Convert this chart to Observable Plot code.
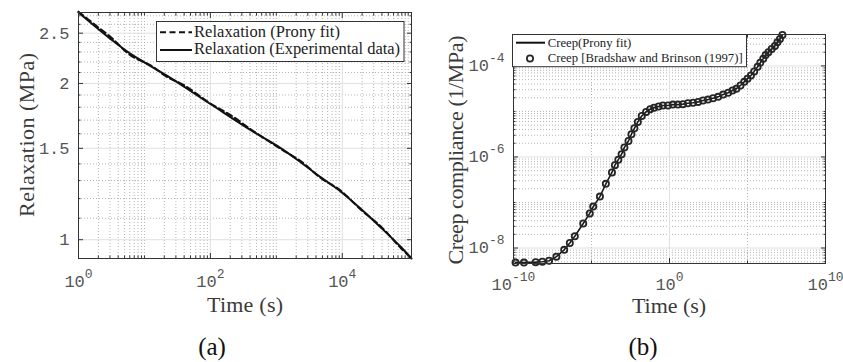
<!DOCTYPE html>
<html><head><meta charset="utf-8">
<script src="https://cdn.jsdelivr.net/npm/d3@7"></script>
<script src="https://cdn.jsdelivr.net/npm/@observablehq/plot@0.6"></script>
<style>
body{margin:0;background:#fff;}
#root{position:relative;width:843px;height:362px;overflow:hidden;background:#fff;}
#root > svg{position:absolute;top:0;}
</style></head>
<body><div id="root"></div>
<script>
// ---------- Panel (a): relaxation ----------
const relaxLogTime      = [0, 0.48, 0.79, 1.34, 2.0, 2.65, 3.06, 3.37, 3.67, 3.97, 4.28, 4.58, 4.89, 5.05];
const relaxExperimental = [2.74, 2.44, 2.28, 2.07, 1.826, 1.615, 1.503, 1.41, 1.32, 1.24, 1.147, 1.057, 0.968, 0.92];
const pronyLogTime      = [0, 0.25, 0.5, 0.79, 1.1, 1.34, 1.6, 2.0, 2.3, 2.65, 3.06, 3.37, 3.67, 3.97, 4.28, 4.58, 4.89, 5.05];
const relaxProny        = [2.75, 2.595, 2.45, 2.265, 2.165, 2.06, 1.985, 1.83, 1.74, 1.62, 1.498, 1.417, 1.316, 1.245, 1.143, 1.062, 0.963, 0.92];
const relaxXTicks = [1, 100, 10000];
const relaxYTicks = [1, 1.5, 2, 2.5];

// ---------- Panel (b): creep compliance ----------
const creepLogTime = [-9.87,-9.33,-8.58,-8.15,-7.72,-7.25,-6.75,-6.39,-6.07,-5.53,-5.11,-4.89,-4.46,-4.08,-3.69,-3.50,-3.28,-3.07,-2.89,-2.63,-2.44,-2.25,-2.03,-1.78,-1.50,-1.24,-0.99,-0.70,-0.42,-0.10,0.22,0.54,0.86,1.18,1.51,1.83,2.15,2.47,2.79,3.12,3.44,3.76,4.04,4.29,4.55,4.79,5.00,5.22,5.43,5.65,5.82,6.01,6.16,6.34,6.55,6.76,6.92,7.08,7.24];
const creepLogCompliance = [-8.32,-8.32,-8.31,-8.30,-8.28,-8.19,-8.04,-7.89,-7.74,-7.46,-7.24,-7.09,-6.87,-6.59,-6.34,-6.18,-6.06,-5.94,-5.79,-5.65,-5.50,-5.37,-5.23,-5.10,-5.01,-4.95,-4.92,-4.89,-4.87,-4.87,-4.85,-4.85,-4.84,-4.82,-4.81,-4.79,-4.76,-4.74,-4.71,-4.68,-4.63,-4.59,-4.54,-4.50,-4.43,-4.35,-4.28,-4.21,-4.12,-4.02,-3.93,-3.84,-3.76,-3.70,-3.63,-3.56,-3.48,-3.41,-3.32];
const creepXTicks = [1e-10, 1, 1e10];
const creepYTicks = [1e-8, 1e-6, 1e-4];

const expData   = relaxLogTime.map((lt, i) => ({t: 10 ** lt, v: relaxExperimental[i]}));
const pronyData = pronyLogTime.map((lt, i) => ({t: 10 ** lt, v: relaxProny[i]}));
const creepData = creepLogTime.map((lt, i) => ({t: 10 ** lt, j: 10 ** creepLogCompliance[i]}));

function logMinor(lo, hi, majors) {
  const out = [];
  for (let e = Math.floor(Math.log10(lo)) - 1; e <= Math.ceil(Math.log10(hi)); e++)
    for (let k = 1; k < 10; k++) {
      const v = k * 10 ** e;
      if (v >= lo && v <= hi && !majors.some(m => Math.abs(m - v) / v < 1e-9)) out.push(v);
    }
  return out;
}
const MONO = "Liberation Mono";
const SERIF = "Liberation Serif";
const supFmt = d => "10^" + Math.round(Math.log10(d));
const blank = () => "";
const MINOR = {stroke: "#b4b4b4", strokeOpacity: 1, strokeDasharray: "1,2", strokeWidth: 1};
const MAJOR = {stroke: "#e0e0e0", strokeOpacity: 1, strokeWidth: 1};
const TXT = {fontSize: 17, fill: "#555", fontFamily: MONO};

function ticks4(xs, ys, size) {
  return [
    Plot.axisX(xs, {anchor: "bottom", tickSize: -size, tickFormat: blank, stroke: "#333"}),
    Plot.axisX(xs, {anchor: "top", tickSize: -size, tickFormat: blank, stroke: "#333"}),
    Plot.axisY(ys, {anchor: "left", tickSize: -size, tickFormat: blank, stroke: "#333"}),
    Plot.axisY(ys, {anchor: "right", tickSize: -size, tickFormat: blank, stroke: "#333"})
  ];
}

// Panel (a)
const aXDomain = [1, 10 ** 5.05], aYDomain = [0.92, 2.74];
const aXMinor = logMinor(aXDomain[0], aXDomain[1], relaxXTicks);
const aYMinor = d3.range(9, 28).map(k => k / 10).filter(v => v > aYDomain[0] && v < aYDomain[1] && !relaxYTicks.some(m => Math.abs(m - v) < 1e-9));

const plotA = Plot.plot({
  width: 421, height: 300,
  marginLeft: 78, marginRight: 10, marginTop: 12, marginBottom: 42,
  x: {type: "log", domain: aXDomain, label: null},
  y: {type: "log", domain: aYDomain, label: null},
  style: {fontFamily: MONO, background: "transparent"},
  marks: [
    Plot.gridX(aXMinor, MINOR),
    Plot.gridY(aYMinor, MINOR),
    Plot.gridX(relaxXTicks, MAJOR),
    Plot.gridY(relaxYTicks, MAJOR),
    Plot.line(pronyData, {x: "t", y: "v", stroke: "#111", strokeWidth: 2, strokeDasharray: "6,3.5", curve: "catmull-rom"}),
    Plot.line(expData, {x: "t", y: "v", stroke: "#111", strokeWidth: 2, curve: "catmull-rom"}),
    Plot.frame({stroke: "#333"}),
    ...ticks4(relaxXTicks, relaxYTicks, 5),
    ...ticks4(aXMinor, aYMinor, 2.5),
    Plot.axisX(relaxXTicks, {anchor: "bottom", tickSize: 0, tickPadding: 16, tickFormat: supFmt, ...TXT}),
    Plot.axisY(relaxYTicks, {anchor: "left", tickSize: 0, tickPadding: 9, tickFormat: d => String(d), ...TXT})
  ]
});

// Panel (b)
const bXDomain = [1e-10, 1e10], bYDomain = [10 ** -8.34, 10 ** -3.31];
const bXMinor = [1e-5, 1e5];
const bYMinor = logMinor(bYDomain[0], bYDomain[1], creepYTicks);

const plotB = Plot.plot({
  width: 422, height: 300,
  marginLeft: 92, marginRight: 18, marginTop: 34, marginBottom: 37,
  x: {type: "log", domain: bXDomain, label: null},
  y: {type: "log", domain: bYDomain, label: null},
  style: {fontFamily: MONO, background: "transparent", overflow: "visible"},
  marks: [
    Plot.gridX(bXMinor, MINOR),
    Plot.gridY(bYMinor, MINOR),
    Plot.gridX(creepXTicks, MAJOR),
    Plot.gridY(creepYTicks, MAJOR),
    Plot.line(creepData, {x: "t", y: "j", stroke: "#1a1a1a", strokeWidth: 1.6}),
    Plot.dot(creepData, {x: "t", y: "j", r: 3.1, stroke: "#262626", strokeWidth: 1.8, fill: "none"}),
    Plot.frame({stroke: "#333"}),
    ...ticks4(creepXTicks, creepYTicks, 5),
    ...ticks4(bXMinor, bYMinor, 2.5),
    Plot.axisX(creepXTicks, {anchor: "bottom", tickSize: 0, tickPadding: 14, tickFormat: supFmt, ...TXT}),
    Plot.axisY(creepYTicks, {anchor: "left", tickSize: 0, tickPadding: 9, tickFormat: supFmt, ...TXT})
  ]
});

const NS = "http://www.w3.org/2000/svg";
function supify(svg) {
  svg.querySelectorAll("text").forEach(t => {
    const m = (t.textContent || "").match(/^10\^(.+)$/);
    if (!m) return;
    t.textContent = "";
    const a = document.createElementNS(NS, "tspan"); a.textContent = "10";
    const b = document.createElementNS(NS, "tspan"); b.textContent = m[1];
    b.setAttribute("dy", "-9"); b.setAttribute("font-size", "13");
    t.append(a, b);
  });
}
supify(plotA); supify(plotB);
plotA.style.left = "0px";
plotB.style.left = "421px";
const root = document.getElementById("root");
root.append(plotA, plotB);

// ---------- labels, legends, captions (overlay) ----------
const overlay = document.createElementNS(NS, "svg");
overlay.setAttribute("width", 843); overlay.setAttribute("height", 362);
overlay.style.left = "0px";
overlay.innerHTML = `
<g font-family="${SERIF}" fill="#3a3a3a">
  <text x="245" y="311.5" font-size="22" text-anchor="middle" textLength="76">Time (s)</text>
  <text x="669" y="313" font-size="22" text-anchor="middle" textLength="74">Time (s)</text>
  <text transform="translate(34,135) rotate(-90)" font-size="22" text-anchor="middle" textLength="164">Relaxation (MPa)</text>
  <text transform="translate(463,150) rotate(-90)" font-size="22" text-anchor="middle" textLength="229">Creep compliance (1/MPa)</text>
</g>
<g font-family="${SERIF}" fill="#111">
  <text x="212" y="355" font-size="25" text-anchor="middle">(a)</text>
  <text x="643" y="355" font-size="25" text-anchor="middle">(b)</text>
</g>
<g>
  <rect x="156.5" y="21.5" width="247.5" height="40" fill="#fff" stroke="#333"/>
  <line x1="160" x2="192" y1="32.3" y2="32.3" stroke="#111" stroke-width="2" stroke-dasharray="6,3.5"/>
  <line x1="160" x2="192" y1="50" y2="50" stroke="#111" stroke-width="2"/>
  <g font-family="${SERIF}" fill="#222" font-size="16.5">
    <text x="194" y="36.7" textLength="146">Relaxation (Prony fit)</text>
    <text x="194" y="54.3" textLength="206">Relaxation (Experimental data)</text>
  </g>
  <rect x="512.5" y="34.5" width="234" height="32.2" fill="#fff" stroke="#333"/>
  <line x1="516" x2="545" y1="42.7" y2="42.7" stroke="#111" stroke-width="2"/>
  <circle cx="530" cy="58.5" r="3.1" fill="none" stroke="#262626" stroke-width="1.8"/>
  <g font-family="${SERIF}" fill="#222" font-size="12.7">
    <text x="547.7" y="46.7">Creep(Prony fit)</text>
    <text x="547.7" y="62.3" textLength="195">Creep [Bradshaw and Brinson (1997)]</text>
  </g>
</g>`;
root.append(overlay);
</script>
</body></html>
